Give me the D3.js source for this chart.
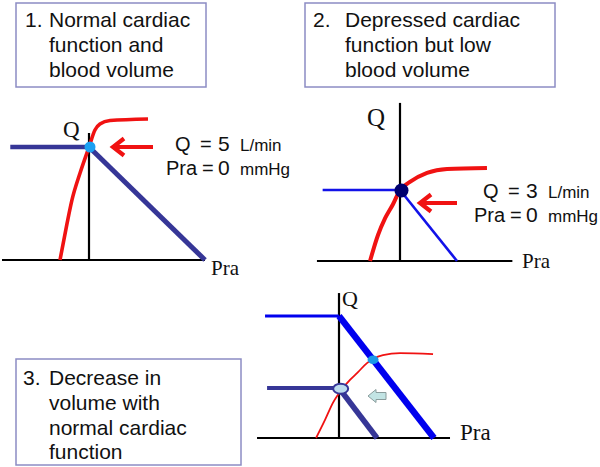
<!DOCTYPE html>
<html>
<head>
<meta charset="utf-8">
<script src="https://cdn.jsdelivr.net/npm/d3@7"></script>
<style>
  body { margin: 0; background: #fff; }
  svg { display: block; }
  .sans { font-family: "Liberation Sans", Arial, sans-serif; fill: #111; }
  .serif { font-family: "Liberation Serif", "Times New Roman", serif; fill: #111; }
</style>
</head>
<body>
<svg id="chart" width="600" height="467"></svg>
<script>
// ---------------- DATA ----------------
// Caption boxes
const box1Lines = ["1.", "Normal cardiac", "function and", "blood volume"];
const box2Lines = ["2.", "Depressed cardiac", "function but low", "blood volume"];
const box3Lines = ["3.", "Decrease in", "volume with", "normal cardiac", "function"];

// Panel 1 : normal cardiac function and blood volume  [Pra, Q]
const p1Axis = [[-5.25, 7], [0, 5.62]];               // x extent, y extent
const p1VenousReturn = [[-4.75, 5], [0, 5], [7, 0]];
const p1CardiacOutput = [[-1.75, 0], [-1.33, 1.6], [-1.03, 2.65], [-0.54, 3.85], [0, 5],
                         [0.36, 5.75], [0.66, 6.02], [1.27, 6.17], [3.56, 6.24]];
const p1Operating = [0, 5];
const p1Result = { Q: "5", Pra: "0" };

// Panel 2 : depressed cardiac function but low blood volume
const p2Axis = [[-5.1, 6.9], [0, 6.68]];
const p2VenousReturn = [[-4.75, 3], [0, 3], [3.5, 0]];
const p2CardiacOutput = [[-1.84, 0], [-1.35, 1.1], [-0.92, 1.8], [-0.43, 2.4], [0, 3],
                         [0.61, 3.34], [1.66, 3.72], [2.89, 3.89], [5.34, 3.93]];
const p2Operating = [0, 3];
const p2Result = { Q: "3", Pra: "0" };

// Panel 3 : decrease in volume with normal cardiac function
const p3Axis = [[-6.04, 8.18], [0, 5.94]];
const p3VenousReturnNormal = [[-5.45, 5], [0, 5], [7, 0]];
const p3VenousReturnLow = [[-5.3, 2.05], [0, 2.05], [2.8, 0]];
const p3CardiacOutput = [[-1.69, 0], [-1.03, 0.74], [-0.44, 1.45], [0.22, 2.0], [0.81, 2.38],
                         [1.40, 2.70], [2.06, 3.07], [2.51, 3.24], [3.24, 3.40], [4.50, 3.48], [6.93, 3.44]];
const p3OperatingNormal = [2.51, 3.21];
const p3OperatingLow = [0.05, 2.02];

const units = { Q: "L/min", Pra: "mmHg" };

// ---------------- DRAW ----------------
const svg = d3.select("#chart");
svg.append("rect").attr("width", 600).attr("height", 467).attr("fill", "#fff");

const RED = "#f01212", NAVY = "#363697", BLUE = "#1212e8", BLUE3 = "#0000ee";

function captionBox(x, y, w, h, lines, numX, textX, baselines) {
  svg.append("rect").attr("x", x).attr("y", y).attr("width", w).attr("height", h)
    .attr("fill", "#fff").attr("stroke", "#8c8cc4").attr("stroke-width", 1.5);
  svg.append("text").attr("class", "sans").attr("x", numX).attr("y", baselines[0])
    .attr("font-size", 21).text(lines[0]);
  lines.slice(1).forEach((t, i) => {
    svg.append("text").attr("class", "sans").attr("x", textX).attr("y", baselines[i])
      .attr("font-size", 21).text(t);
  });
}

captionBox(16, 3, 190, 84, box1Lines, 25, 49, [27, 52, 77]);
captionBox(305, 3, 250, 84, box2Lines, 313, 345, [27, 52, 77]);
captionBox(16, 359, 225, 106, box3Lines, 23, 49, [385, 410, 435, 459]);

function makeScales(xDom, xRange, yDom, yRange) {
  return [d3.scaleLinear().domain(xDom).range(xRange),
          d3.scaleLinear().domain(yDom).range(yRange)];
}

function axes(x, y, ext) {
  const g = svg.append("g");
  g.append("line").attr("x1", x(ext[0][0])).attr("x2", x(ext[0][1]))
    .attr("y1", y(0)).attr("y2", y(0)).attr("stroke", "#000").attr("stroke-width", 2.2);
  g.append("line").attr("x1", x(0)).attr("x2", x(0))
    .attr("y1", y(0)).attr("y2", y(ext[1][1])).attr("stroke", "#000").attr("stroke-width", 2.2);
}

function seg(x, y, a, b, color, w) {
  svg.append("line").attr("x1", x(a[0])).attr("y1", y(a[1]))
    .attr("x2", x(b[0])).attr("y2", y(b[1]))
    .attr("stroke", color).attr("stroke-width", w);
}

function curve(x, y, pts, color, w) {
  const line = d3.line().x(d => x(d[0])).y(d => y(d[1])).curve(d3.curveMonotoneX);
  svg.append("path").attr("d", line(pts)).attr("fill", "none")
    .attr("stroke", color).attr("stroke-width", w).attr("stroke-linecap", "butt");
}

function redArrow(tipX, tipY, len) {
  svg.append("path")
    .attr("d", `M${tipX + len},${tipY}H${tipX + 1} M${tipX + 11},${tipY - 8.5} L${tipX},${tipY} L${tipX + 11},${tipY + 8.5}`)
    .attr("fill", "none").attr("stroke", RED).attr("stroke-width", 4.2)
    .attr("stroke-linejoin", "miter").attr("stroke-linecap", "butt");
}

function resultText(x0, y0, res) {
  const t1 = svg.append("text").attr("class", "sans").attr("y", y0);
  t1.append("tspan").attr("x", x0 + 9).attr("font-size", 20).text("Q");
  t1.append("tspan").attr("x", x0 + 34).attr("font-size", 20).text("=");
  t1.append("tspan").attr("x", x0 + 52).attr("font-size", 21).text(res.Q);
  t1.append("tspan").attr("x", x0 + 74).attr("font-size", 17).text(units.Q);
  const t2 = svg.append("text").attr("class", "sans").attr("y", y0 + 24);
  t2.append("tspan").attr("x", x0).attr("font-size", 20).text("Pra");
  t2.append("tspan").attr("x", x0 + 36).attr("font-size", 20).text("=");
  t2.append("tspan").attr("x", x0 + 52).attr("font-size", 21).text(res.Pra);
  t2.append("tspan").attr("x", x0 + 74).attr("font-size", 17).text(units.Pra);
}

// ----- Panel 1 -----
{
  const [x, y] = makeScales([0, 7], [89, 205], [0, 5], [260, 147]);
  axes(x, y, p1Axis);
  curve(x, y, p1CardiacOutput, RED, 3.6);
  seg(x, y, p1VenousReturn[0], p1VenousReturn[1], NAVY, 4.3);
  seg(x, y, p1VenousReturn[1], p1VenousReturn[2], NAVY, 5);
  svg.append("circle").attr("cx", x(p1Operating[0]) + 1).attr("cy", y(p1Operating[1]))
    .attr("r", 5.5).attr("fill", "#1ba0f2");
  svg.append("text").attr("class", "serif").attr("x", 63).attr("y", 137).attr("font-size", 23).text("Q");
  svg.append("text").attr("class", "serif").attr("x", 211).attr("y", 275).attr("font-size", 21).text("Pra");
  redArrow(113, y(p1Operating[1]), 40);
  resultText(166, 151, p1Result);
}

// ----- Panel 2 -----
{
  const [x, y] = makeScales([0, 3.5], [400, 457], [0, 3], [261, 190]);
  axes(x, y, p2Axis);
  curve(x, y, p2CardiacOutput, RED, 4);
  seg(x, y, p2VenousReturn[0], p2VenousReturn[1], BLUE, 2.6);
  seg(x, y, p2VenousReturn[1], p2VenousReturn[2], BLUE, 2.6);
  svg.append("circle").attr("cx", x(p2Operating[0]) + 1.5).attr("cy", y(p2Operating[1]) + 0.5)
    .attr("r", 7).attr("fill", "#00006e");
  svg.append("text").attr("class", "serif").attr("x", 367).attr("y", 126).attr("font-size", 25).text("Q");
  svg.append("text").attr("class", "serif").attr("x", 522).attr("y", 268).attr("font-size", 21).text("Pra");
  redArrow(420, 203, 37);
  resultText(474, 198, p2Result);
}

// ----- Panel 3 -----
{
  const [x, y] = makeScales([0, 7], [339, 434], [0, 5], [438, 316]);
  axes(x, y, p3Axis);
  seg(x, y, p3VenousReturnNormal[0], p3VenousReturnNormal[1], BLUE3, 3);
  seg(x, y, p3VenousReturnNormal[1], p3VenousReturnNormal[2], BLUE3, 6.5);
  seg(x, y, p3VenousReturnLow[0], p3VenousReturnLow[1], NAVY, 4);
  seg(x, y, p3VenousReturnLow[1], p3VenousReturnLow[2], NAVY, 5.5);
  curve(x, y, p3CardiacOutput, RED, 1.8);
  svg.append("ellipse").attr("cx", x(p3OperatingNormal[0])).attr("cy", y(p3OperatingNormal[1]))
    .attr("rx", 5.5).attr("ry", 4.3).attr("fill", "#1a9ae8");
  svg.append("ellipse").attr("cx", x(p3OperatingLow[0]) + 1).attr("cy", y(p3OperatingLow[1]))
    .attr("rx", 7.5).attr("ry", 5).attr("fill", "#bcdcee").attr("stroke", NAVY).attr("stroke-width", 2);
  // small block arrow showing the shift
  svg.append("path")
    .attr("d", "M368,396 L376,389.5 L376,392.5 L386,392.5 L386,399.5 L376,399.5 L376,402.5 Z")
    .attr("fill", "#c2e4e4").attr("stroke", "#8a9c9c").attr("stroke-width", 1);
  svg.append("text").attr("class", "serif").attr("x", 342).attr("y", 306).attr("font-size", 22).text("Q");
  svg.append("text").attr("class", "serif").attr("x", 460).attr("y", 440).attr("font-size", 23).text("Pra");
}
</script>
</body>
</html>
